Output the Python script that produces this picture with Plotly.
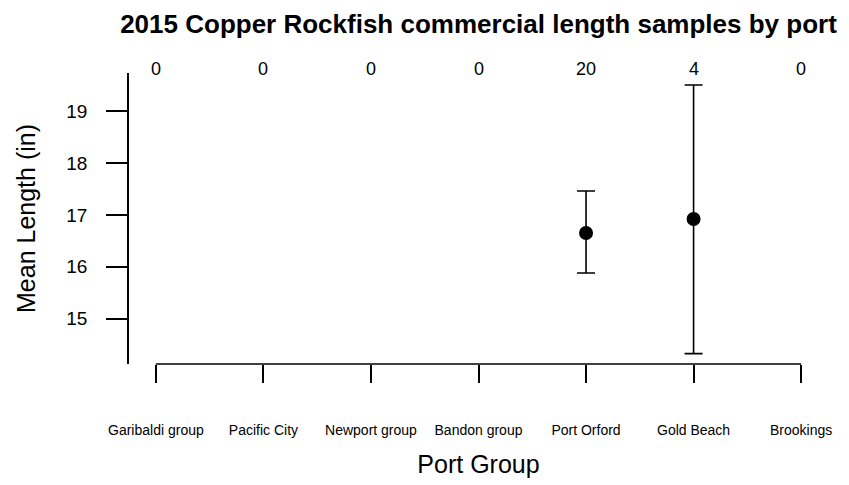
import plotly.graph_objects as go

# port groups, sample counts and mean length with interval
ports = ['Garibaldi group', 'Pacific City', 'Newport group', 'Bandon group',
         'Port Orford', 'Gold Beach', 'Brookings']
counts = [0, 0, 0, 0, 20, 4, 0]
mean_len = [None, None, None, None, 16.65, 16.92, None]
upper = [None, None, None, None, 17.46, 19.50, None]
lower = [None, None, None, None, 15.88, 14.33, None]

err_up = [u - m if m is not None else None for m, u in zip(mean_len, upper)]
err_dn = [m - l if m is not None else None for m, l in zip(mean_len, lower)]

font = 'Liberation Sans, Arial, sans-serif'

fig = go.Figure()
fig.add_trace(go.Scatter(
    x=ports, y=mean_len, mode='markers',
    marker=dict(color='black', size=14, symbol='circle'),
    error_y=dict(type='data', array=err_up, arrayminus=err_dn,
                 color='black', thickness=1.6, width=9),
    showlegend=False, hoverinfo='skip'))

# sample counts above each port
for p, n in zip(ports, counts):
    fig.add_annotation(x=p, y=1, xref='x', yref='paper', text=str(n),
                       showarrow=False, yanchor='middle', yshift=4,
                       font=dict(family=font, size=18, color='black'))

# R-style x axis line, only between first and last tick
fig.add_shape(type='line', xref='x', yref='paper', x0=ports[0], x1=ports[-1],
              y0=0, y1=0, line=dict(color='black', width=1.6))

# page body adds an 8px margin, so the figure is 8px smaller to fit the window
fig.update_layout(
    width=841, height=477,
    margin=dict(l=121, r=21, t=65, b=119),
    paper_bgcolor='white', plot_bgcolor='white',
    font=dict(family=font, color='black'),
    title=dict(text='<b>2015 Copper Rockfish commercial length samples by port</b>',
               x=0.5, xref='paper', xanchor='center', y=0.967, yanchor='middle',
               font=dict(size=26, color='black')),
)
fig.update_xaxes(
    type='category', categoryorder='array', categoryarray=ports,
    range=[-0.25, 6.25], showgrid=False, zeroline=False, showline=False,
    ticks='outside', ticklen=18, tickwidth=1.6, tickcolor='black',
    ticklabelstandoff=35, tickfont=dict(size=14),
    title=dict(text='Port Group', font=dict(size=25), standoff=18))
fig.update_yaxes(
    range=[14.13, 19.73], tickvals=[15, 16, 17, 18, 19],
    showgrid=False, zeroline=False, showline=True, linecolor='black', linewidth=1.6,
    ticks='outside', ticklen=21, tickwidth=1.6, tickcolor='black',
    ticklabelstandoff=15, tickfont=dict(size=19),
    title=dict(text='Mean Length (in)', font=dict(size=25), standoff=24))

fig.write_html('out.html')
